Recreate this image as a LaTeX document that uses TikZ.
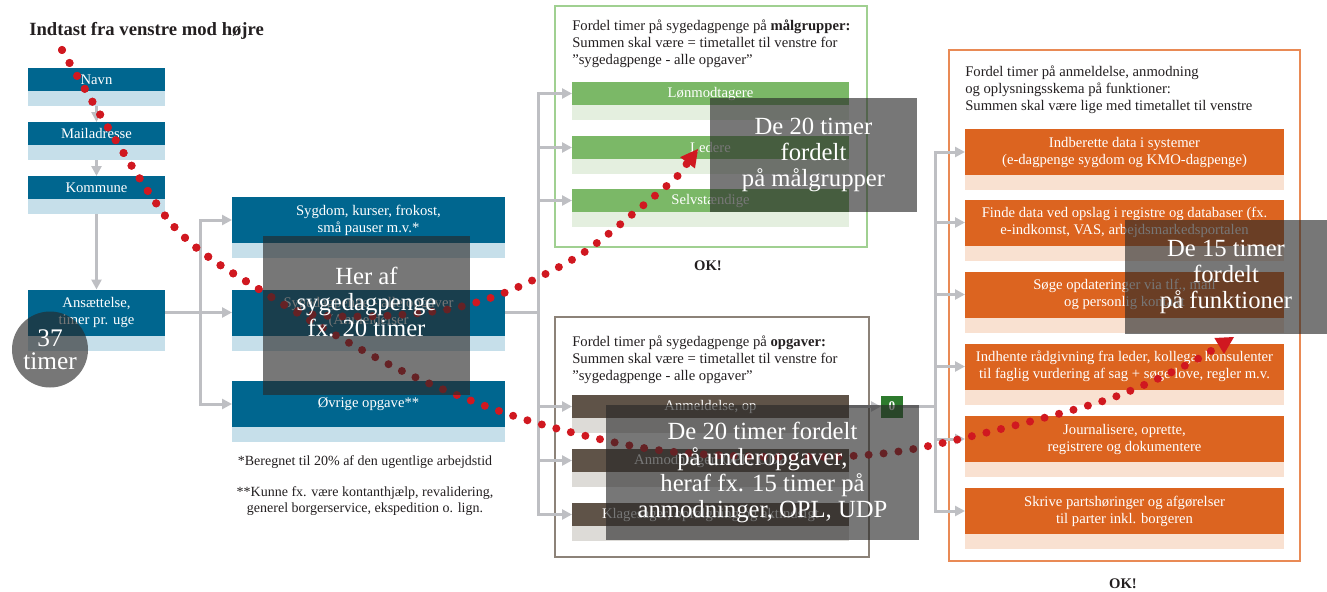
\documentclass[tikz,border=0pt]{standalone}
\usepackage{fontspec}
\setmainfont{Liberation Serif}
\usepackage{tikz}
\usetikzlibrary{arrows.meta,positioning}
\definecolor{Blaa}{RGB}{0,102,143}
\definecolor{LyseBlaa}{RGB}{198,223,234}
\definecolor{Groen}{RGB}{123,184,103}
\definecolor{LyseGroen}{RGB}{228,239,223}
\definecolor{GroenRamme}{RGB}{160,208,145}
\definecolor{Brun}{RGB}{95,83,72}
\definecolor{LyseBrun}{RGB}{221,219,215}
\definecolor{BrunRamme}{RGB}{140,130,120}
\definecolor{Orange}{RGB}{220,100,32}
\definecolor{LyseOrange}{RGB}{249,225,209}
\definecolor{OrangeRamme}{RGB}{233,138,85}
\definecolor{Graa}{RGB}{190,191,195}
\definecolor{Roed}{RGB}{208,24,32}
\definecolor{NulGroen}{RGB}{45,122,45}
\definecolor{Skygge}{RGB}{40,40,40}
\definecolor{Tekst}{RGB}{35,31,32}
\tikzset{
  linje/.style={draw=Graa,line width=2.25pt},
  pil/.style={linje,-{Triangle[length=7.5pt,width=7.5pt]}},
  felt/.style={inner sep=0pt,outer sep=0pt,text=white,align=center,font=\fontsize{11}{12.75}\selectfont},
  strimmel/.style={inner sep=0pt,outer sep=0pt,minimum height=11.25pt},
  smal/.style={minimum width=102.75pt},
  bred/.style={minimum width=204.75pt},
  mellem/.style={minimum width=207.75pt},
  fuld/.style={minimum width=239.25pt},
  lav/.style={minimum height=17.25pt},
  hoej/.style={minimum height=34.5pt},
  ramme/.style={inner sep=0pt,line width=1pt},
  overskrift/.style={anchor=west,align=left,inner sep=0pt,text=Tekst,font=\fontsize{11}{12.75}\selectfont},
  fodnote/.style={align=center,inner sep=0pt,text=Tekst,font=\fontsize{10.5}{12}\selectfont},
  ok/.style={inner sep=0pt,text=Tekst,font=\bfseries\fontsize{11}{12}\selectfont},
  skygge/.style={fill=Skygge,fill opacity=0.63,text opacity=1,text=white,inner sep=0pt,align=center,font=\fontsize{18.5}{19.5}\selectfont},
  skyggetekst/.style={text=white,inner sep=0pt,align=center,font=\fontsize{18.5}{19.5}\selectfont},
  prikker/.style={draw=Roed,line width=6pt,line cap=round,dash pattern=on 0pt off 11.25pt,
    -{Triangle[length=13pt,width=14pt,line width=0pt]}},
}

\begin{document}
\begin{tikzpicture}[x=0.75pt,y=-0.75pt]
\useasboundingbox (0,0) rectangle (1327,592);

\node[anchor=west,inner sep=0pt,text=Tekst,font=\bfseries\fontsize{14}{16}\selectfont] (tittel) at (29,31) {Indtast fra venstre mod højre};

% venstre kolonne
\node[felt,smal,lav,fill=Blaa] (navn) at (96.5,79.5) {Navn};
\node[strimmel,smal,fill=LyseBlaa,below=0pt of navn] (navnB) {};
\node[felt,smal,lav,fill=Blaa] (mail) at (96.5,133.5) {Mailadresse};
\node[strimmel,smal,fill=LyseBlaa,below=0pt of mail] (mailB) {};
\node[felt,smal,lav,fill=Blaa] (kommune) at (96.5,187.5) {Kommune};
\node[strimmel,smal,fill=LyseBlaa,below=0pt of kommune] (kommuneB) {};
\node[felt,smal,hoej,fill=Blaa] (ansat) at (96.5,312.5) {Ansættelse,\\timer pr. uge};
\node[strimmel,smal,fill=LyseBlaa,below=0pt of ansat] (ansatB) {};
\draw[pil] (navnB) -- (mail);
\draw[pil] (mailB) -- (kommune);
\draw[pil] (kommuneB) -- (ansat);

% midterste kolonne
\node[felt,bred,hoej,fill=Blaa] (sygdom) at (368.5,220) {Sygdom, kurser, frokost,\\små pauser m.v.*};
\node[strimmel,bred,fill=LyseBlaa,below=0pt of sygdom] (sygdomB) {};
\node[felt,bred,hoej,fill=Blaa] (syge) at (368.5,312.5) {Sygedagpenge - alle opgaver\\(Anmeldelser};
\node[strimmel,bred,fill=LyseBlaa,below=0pt of syge] (sygeB) {};
\node[felt,bred,hoej,fill=Blaa] (ovrige) at (368.5,404) {Øvrige opgave**};
\node[strimmel,bred,fill=LyseBlaa,below=0pt of ovrige] (ovrigeB) {};
\node[fodnote] (note1) at (365,462) {*Beregnet til 20\% af den ugentlige arbejdstid};
\node[fodnote] (note2) at (365,501) {**Kunne fx. være kontanthjælp, revalidering,\\generel borgerservice, ekspedition o. lign.};

\coordinate (gren1) at (200,312.5);
\draw[pil] (ansat) -- (syge);
\draw[pil] (gren1) |- (sygdom.west);
\draw[pil] (gren1) |- (ovrige.west);

% målgrupper
\node[ramme,draw=GroenRamme,minimum width=234pt,minimum height=180.75pt] (gruppeRamme) at (711,126.5) {};
\node[overskrift] (gruppeTekst) at (572,44) {Fordel timer på sygedagpenge på \textbf{målgrupper:}\\Summen skal være = timetallet til venstre for\\"sygedagpenge - alle opgaver"};
\node[felt,mellem,lav,fill=Groen] (lon) at (710.5,93.5) {Lønmodtagere};
\node[strimmel,mellem,fill=LyseGroen,below=0pt of lon] (lonB) {};
\node[felt,mellem,lav,fill=Groen] (leder) at (710.5,147.5) {Ledere};
\node[strimmel,mellem,fill=LyseGroen,below=0pt of leder] (lederB) {};
\node[felt,mellem,lav,fill=Groen] (selv) at (710.5,200.5) {Selvstændige};
\node[strimmel,mellem,fill=LyseGroen,below=0pt of selv] (selvB) {};
\node[ok] (ok1) at (708,266) {OK!};

% opgaver
\node[ramme,draw=BrunRamme,minimum width=235.5pt,minimum height=180pt] (opgaveRamme) at (712,437) {};
\node[overskrift] (opgaveTekst) at (572,360) {Fordel timer på sygedagpenge på \textbf{opgaver:}\\Summen skal være = timetallet til venstre for\\"sygedagpenge - alle opgaver"};
\node[felt,mellem,lav,fill=Brun] (anm) at (710.5,406.5) {Anmeldelse, op};
\node[strimmel,mellem,fill=LyseBrun,below=0pt of anm] (anmB) {};
\node[felt,mellem,lav,fill=Brun] (anmod) at (710.5,460.5) {Anmodninger, OPL, UDP};
\node[strimmel,mellem,fill=LyseBrun,below=0pt of anmod] (anmodB) {};
\node[felt,mellem,lav,fill=Brun] (klage) at (710.5,514.5) {Klagesager, opfølgning og aktindsigt};
\node[strimmel,mellem,fill=LyseBrun,below=0pt of klage] (klageB) {};
\node[felt,fill=NulGroen,minimum size=16.5pt,font=\bfseries\fontsize{10}{12}\selectfont] (nul) at (892,406.5) {0};

\coordinate (gren2) at (538,312.5);
\draw[linje] (syge) -- (gren2);
\foreach \m in {lon,leder,selv,anm,anmod,klage}
  \draw[pil] (gren2) |- (\m.west);

% funktioner
\node[ramme,draw=OrangeRamme,minimum width=263.25pt,minimum height=383.25pt] (funktionRamme) at (1124.5,305.5) {};
\node[overskrift] (funktionTekst) at (965,90) {Fordel timer på anmeldelse, anmodning\\og oplysningsskema på funktioner:\\Summen skal være lige med timetallet til venstre};
\node[felt,fuld,hoej,fill=Orange] (f1) at (1124.5,152) {Indberette data i systemer\\(e-dagpenge sygdom og KMO-dagpenge)};
\node[strimmel,fuld,fill=LyseOrange,below=0pt of f1] (f1B) {};
\node[felt,fuld,hoej,fill=Orange] (f2) at (1124.5,222.5) {Finde data ved opslag i registre og databaser (fx.\\e-indkomst, VAS, arbejdsmarkedsportalen};
\node[strimmel,fuld,fill=LyseOrange,below=0pt of f2] (f2B) {};
\node[felt,fuld,hoej,fill=Orange] (f3) at (1124.5,294.5) {Søge opdateringer via tlf., mail\\og personlig kontakt};
\node[strimmel,fuld,fill=LyseOrange,below=0pt of f3] (f3B) {};
\node[felt,fuld,hoej,fill=Orange] (f4) at (1124.5,366.5) {Indhente rådgivning fra leder, kollega, konsulenter\\til faglig vurdering af sag + søge love, regler m.v.};
\node[strimmel,fuld,fill=LyseOrange,below=0pt of f4] (f4B) {};
\node[felt,fuld,hoej,fill=Orange] (f5) at (1124.5,439) {Journalisere, oprette,\\registrere og dokumentere};
\node[strimmel,fuld,fill=LyseOrange,below=0pt of f5] (f5B) {};
\node[felt,fuld,hoej,fill=Orange] (f6) at (1124.5,511) {Skrive partshøringer og afgørelser\\til parter inkl. borgeren};
\node[strimmel,fuld,fill=LyseOrange,below=0pt of f6] (f6B) {};
\node[ok] (ok2) at (1123,584) {OK!};

\coordinate (gren3) at (935,406.5);
\draw[pil] (anm) -- (nul);
\draw[linje] (nul) -- (gren3);
\foreach \f in {f1,f2,f3,f4,f5,f6}
  \draw[pil] (gren3) |- (\f.west);

% røde spor
\coordinate (start) at (62,50);
\coordinate (maalgruppe) at (698,149);
\coordinate (funktion) at (1234,337);
\draw[prikker] plot[smooth,tension=0.5] coordinates {(start) (170,222) (265,293) (310,314) (380,316) (450,309) (509,291) (580,255) (640,208) (676,178)} -- (maalgruppe);
\draw[prikker] plot[smooth,tension=0.5] coordinates {(start) (170,222) (265,293) (400,370) (520,418) (650,449) (780,457) (908,450) (1100,402) (1196,360)} -- (funktion);

% gennemsigtige felter
\node[skygge,circle,minimum size=57pt,font=\fontsize{19}{17}\selectfont] (timer37) at (50,349.5) {37\\timer};
\node[skygge,minimum width=155.25pt,minimum height=119.25pt] (skygge1) at (366.5,315.5) {};
\node[skyggetekst] (skygge1Tekst) at (366.5,302) {Her af\\sygedagpenge\\fx. 20 timer};
\node[skygge,minimum width=155.25pt,minimum height=85.5pt] (skygge2) at (813.5,155) {De 20 timer\\fordelt\\på målgrupper};
\node[skygge,minimum width=234.75pt,minimum height=101.25pt] (skygge3) at (762.5,472.5) {De 20 timer fordelt\\på underopgaver,\\heraf fx. 15 timer på\\anmodninger, OPL, UDP};
\node[skygge,minimum width=151.5pt,minimum height=85.5pt] (skygge4) at (1226,277) {De 15 timer\\fordelt\\på funktioner};
\end{tikzpicture}
\end{document}
